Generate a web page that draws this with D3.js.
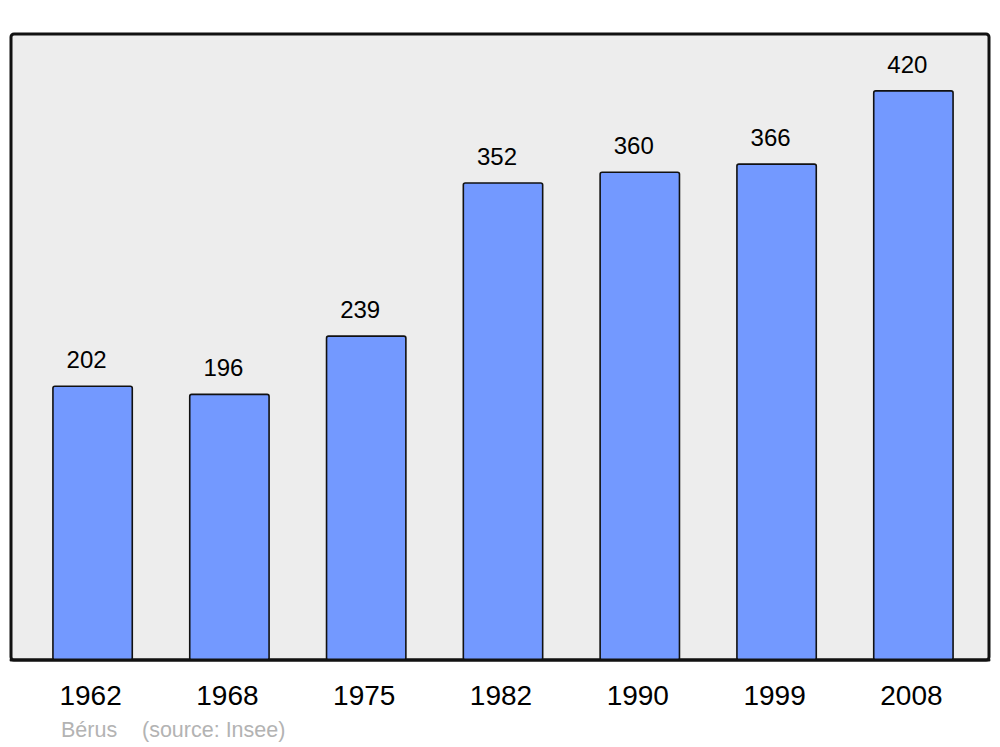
<!DOCTYPE html>
<html>
<head>
<meta charset="utf-8">
<script src="https://cdn.jsdelivr.net/npm/d3@7"></script>
<style>
  body { margin: 0; background: #fff; }
  svg { display: block; font-family: "Liberation Sans", Arial, sans-serif; }
</style>
</head>
<body>
<svg id="chart" width="1000" height="747"></svg>
<script>
var years = ['1962', '1968', '1975', '1982', '1990', '1999', '2008'];
var population = [202, 196, 239, 352, 360, 366, 420];
var commune = 'Bérus';
var source = '(source: Insee)';

var frameLeft = 11, frameRight = 989, frameTop = 34, frameBottom = 660;

var svg = d3.select('#chart');

var x = d3.scaleBand()
	.domain(years)
	.range([16, 990])
	.paddingInner(0.42)
	.paddingOuter(0.27);

var y = d3.scaleLinear()
	.domain([0, d3.max(population) * 1.1])
	.range([frameBottom, frameTop]);

// cadre
svg.append('rect')
	.attr('x', frameLeft)
	.attr('y', frameTop)
	.attr('width', frameRight - frameLeft)
	.attr('height', frameBottom - frameTop)
	.attr('rx', 3)
	.attr('fill', '#ededed')
	.attr('stroke', '#111')
	.attr('stroke-width', 3);

svg.append('g').selectAll('rect')
	.data(population)
	.enter().append('rect')
	.attr('x', function(d, i) { return x(years[i]); })
	.attr('y', function(d) { return y(d); })
	.attr('width', x.bandwidth())
	.attr('height', function(d) { return y(0) - y(d); })
	.attr('rx', 2)
	.attr('fill', '#7399ff')
	.attr('stroke', '#111')
	.attr('stroke-width', 1.6);

// ligne de base par-dessus les barres
svg.append('line')
	.attr('x1', frameLeft)
	.attr('x2', frameRight)
	.attr('y1', frameBottom)
	.attr('y2', frameBottom)
	.attr('stroke', '#111')
	.attr('stroke-width', 3)
	.attr('stroke-linecap', 'round');

svg.append('g').selectAll('text')
	.data(population)
	.enter().append('text')
	.attr('x', function(d, i) { return x(years[i]) + x.bandwidth() / 2 - 6; })
	.attr('y', function(d) { return y(d) - 18; })
	.attr('text-anchor', 'middle')
	.style('font-size', '24px')
	.style('fill', '#000')
	.text(function(d) { return d; });

var xAxis = d3.axisBottom(x).tickSize(0).tickPadding(0);
var axis = svg.append('g')
	.attr('transform', 'translate(0,' + frameBottom + ')')
	.call(xAxis);
axis.select('.domain').remove();
axis.selectAll('text')
	.attr('dy', null)
	.attr('y', 45)
	.attr('dx', -2)
	.style('font-size', '28px')
	.style('font-family', '"Liberation Sans", Arial, sans-serif')
	.style('fill', '#000');

svg.append('text')
	.attr('x', 61)
	.attr('y', 737)
	.style('font-size', '21.5px')
	.style('fill', '#b3b3b3')
	.text(commune);

svg.append('text')
	.attr('x', 142)
	.attr('y', 737)
	.style('font-size', '21.5px')
	.style('fill', '#b3b3b3')
	.text(source);
</script>
</body>
</html>
